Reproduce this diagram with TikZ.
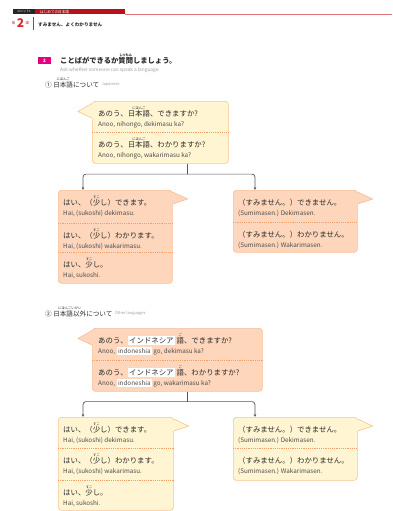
\documentclass[tikz,border=0pt]{standalone}
\usepackage{fontspec}
\setmainfont{Noto Sans CJK JP}
\usetikzlibrary{arrows.meta, positioning, calc}

\definecolor{hdred}{HTML}{B5121B}
\definecolor{lnred}{HTML}{E07078}
\definecolor{numred}{HTML}{D7282F}
\definecolor{tagpink}{HTML}{E4007F}
\definecolor{yelfill}{HTML}{FFF5D2}
\definecolor{yelline}{HTML}{F8C58E}
\definecolor{salfill}{HTML}{FDD6BC}
\definecolor{salline}{HTML}{F9BE96}
\definecolor{dashcol}{HTML}{F2A06A}
\definecolor{txt}{HTML}{2C2C2C}
\definecolor{subgray}{HTML}{A0A0A0}
\definecolor{conncol}{HTML}{555555}

% furigana over a word
\newcommand{\rb}[2]{\leavevmode\setbox0=\hbox{#1}\hbox to \wd0{\hss\raisebox{\dimexpr\ht0+1pt\relax}[0pt][0pt]{\fontsize{3.3}{3.3}\selectfont #2}\hss}\kern-\wd0\box0}
% white field for the language name
\newcommand{\hl}[1]{{\setlength{\fboxsep}{1.4pt}\colorbox{white}{#1}}}
\newcommand{\rom}{\fontsize{6.3}{7}\selectfont\color{txt!85}}

\begin{document}
\begin{tikzpicture}[x=1pt, y=-1pt,
  yel/.style={draw=yelline, fill=yelfill, line width=.6pt, rounded corners=3pt, inner sep=0pt, anchor=north west},
  sal/.style={draw=salline, fill=salfill, line width=.6pt, rounded corners=3pt, inner sep=0pt, anchor=north west},
  rowtxt/.style={inner sep=0pt, align=left, text=txt, font=\fontsize{7.4}{10.5}\selectfont},
  divider/.style={draw=dashcol, dash pattern=on 1.2pt off 1pt, line width=.5pt},
  conn/.style={draw=conncol, line width=.7pt, rounded corners=3pt},
  arrow/.style={conn, -{Stealth[length=3pt, width=2.6pt]}},
  eng/.style={inner sep=0pt, text=subgray, font=\fontsize{4}{4}\selectfont}]
\fill[white] (0,0) rectangle (392,511);
\useasboundingbox (0,0) rectangle (392,511);

% page header
\fill[black!85] (13,9) rectangle (35,14.5);
\node[inner sep=0pt, text=white, font=\fontsize{3}{3}\selectfont] at (24,11.8) {ユニット1};
\fill[hdred] (35,9) rectangle (125,14.5);
\node[anchor=west, inner sep=0pt, text=white, font=\fontsize{3.6}{3.6}\selectfont] at (40,11.8) {はじめての日本語};
\draw[lnred, line width=.6pt] (125,14.2) -- (392,14.2);
\node[inner sep=0pt, text=numred, font=\bfseries\fontsize{12}{12}\selectfont] (lesson) at (20.5,23.5) {2};
\node[inner sep=0pt, text=numred, font=\fontsize{3.5}{3.5}\selectfont, left=1pt of lesson] {第};
\node[inner sep=0pt, text=numred, font=\fontsize{3.5}{3.5}\selectfont, right=1pt of lesson] {課};
\draw[numred, line width=.6pt] (33,17) -- (33,30);
\node[anchor=west, inner sep=0pt, text=txt, font=\bfseries\fontsize{4.6}{4.6}\selectfont] at (38,24.5) {すみません、よくわかりません};

% exercise title
\node[fill=tagpink, text=white, minimum width=13pt, minimum height=6.5pt, inner sep=0pt, font=\bfseries\fontsize{4.5}{4.5}\selectfont] (ex) at (44.5,60.5) {2};
\node[anchor=west, inner sep=0pt, text=txt, font=\bfseries\fontsize{7.3}{7.3}\selectfont] (extitle) at (60,61) {ことばができるか\rb{質問}{しつもん}しましょう。};
\node[anchor=west, inner sep=0pt, text=subgray, font=\fontsize{4.8}{4.8}\selectfont] at (60,70) {Ask whether someone can speak a language.};

% 1: Japanese
\node[anchor=west, inner sep=0pt, text=txt, font=\fontsize{6.6}{6.6}\selectfont] (hd1) at (45,84.5) {① \rb{日本語}{にほんご}について};
\node[eng, right=2pt of hd1] {Japanese};

\node[yel, minimum width=136pt, minimum height=62pt] (q1) at (92,101) {};
\node[rowtxt, below right=8.8pt and 6pt of q1.north west] (q1a) {あのう、\rb{日本語}{にほんご}、できますか?\\{\rom Anoo, nihongo, dekimasu ka?}};
\node[rowtxt, below right=39.8pt and 6pt of q1.north west] (q1b) {あのう、\rb{日本語}{にほんご}、わかりますか?\\{\rom Anoo, nihongo, wakarimasu ka?}};
\draw[divider] ($(q1.north west)+(0,31)$) -- ($(q1.north east)+(0,31)$);

\node[sal, minimum width=114pt, minimum height=93pt] (a1) at (58,190) {};
\node[rowtxt, below right=8.8pt and 5pt of a1.north west] (a1a) {はい、（\rb{少}{すこ}し）できます。\\{\rom Hai, (sukoshi) dekimasu.}};
\node[rowtxt, below right=41.8pt and 5pt of a1.north west] (a1b) {はい、（\rb{少}{すこ}し）わかります。\\{\rom Hai, (sukoshi) wakarimasu.}};
\node[rowtxt, below right=70.8pt and 5pt of a1.north west] (a1c) {はい、\rb{少}{すこ}し。\\{\rom Hai, sukoshi.}};
\draw[divider] ($(a1.north west)+(0,33)$) -- ($(a1.north east)+(0,33)$);
\draw[divider] ($(a1.north west)+(0,62)$) -- ($(a1.north east)+(0,62)$);

\node[sal, minimum width=124pt, minimum height=62pt] (a2) at (233,190) {};
\node[rowtxt, below right=8.8pt and 5pt of a2.north west] (a2a) {（すみません。）できません。\\{\rom (Sumimasen.) Dekimasen.}};
\node[rowtxt, below right=40.8pt and 5pt of a2.north west] (a2b) {（すみません。）わかりません。\\{\rom (Sumimasen.) Wakarimasen.}};
\draw[divider] ($(a2.north west)+(0,32)$) -- ($(a2.north east)+(0,32)$);

% 2: other languages
\node[anchor=west, inner sep=0pt, text=txt, font=\fontsize{6.6}{6.6}\selectfont] (hd2) at (45,313.5) {② \rb{日本語以外}{にほんごいがい}について};
\node[eng, right=2pt of hd2] {Other languages};

\node[sal, minimum width=170pt, minimum height=63pt] (q2) at (92,328) {};
\node[rowtxt, below right=7.6pt and 6pt of q2.north west] (q2a) {あのう、\hl{インドネシア} \rb{語}{ご}、できますか?\\{\rom Anoo, \hl{indoneshia} go, dekimasu ka?}};
\node[rowtxt, below right=39.6pt and 6pt of q2.north west] (q2b) {あのう、\hl{インドネシア} \rb{語}{ご}、わかりますか?\\{\rom Anoo, \hl{indoneshia} go, wakarimasu ka?}};
\draw[divider] ($(q2.north west)+(0,32)$) -- ($(q2.north east)+(0,32)$);

\node[yel, minimum width=115pt, minimum height=93pt] (a3) at (58,417) {};
\node[rowtxt, below right=8.8pt and 5pt of a3.north west] (a3a) {はい、（\rb{少}{すこ}し）できます。\\{\rom Hai, (sukoshi) dekimasu.}};
\node[rowtxt, below right=39.8pt and 5pt of a3.north west] (a3b) {はい、（\rb{少}{すこ}し）わかります。\\{\rom Hai, (sukoshi) wakarimasu.}};
\node[rowtxt, below right=71.8pt and 5pt of a3.north west] (a3c) {はい、\rb{少}{すこ}し。\\{\rom Hai, sukoshi.}};
\draw[divider] ($(a3.north west)+(0,31)$) -- ($(a3.north east)+(0,31)$);
\draw[divider] ($(a3.north west)+(0,63)$) -- ($(a3.north east)+(0,63)$);

\node[yel, minimum width=124pt, minimum height=63pt] (a4) at (233,417) {};
\node[rowtxt, below right=8.8pt and 5pt of a4.north west] (a4a) {（すみません。）できません。\\{\rom (Sumimasen.) Dekimasen.}};
\node[rowtxt, below right=39.8pt and 5pt of a4.north west] (a4b) {（すみません。）わかりません。\\{\rom (Sumimasen.) Wakarimasen.}};
\draw[divider] ($(a4.north west)+(0,31)$) -- ($(a4.north east)+(0,31)$);

% speech tails
\foreach \b/\f/\l in {q1/yelfill/yelline, q2/salfill/salline} {
  \fill[\f] ($(\b.north west)+(1,1.9)$) -- ($(\b.north west)+(-14,10.5)$) -- ($(\b.north west)+(1,17.5)$) -- cycle;
  \draw[\l, line width=.6pt] ($(\b.north west)+(0,2.5)$) -- ($(\b.north west)+(-14,10.5)$) -- ($(\b.north west)+(0,17)$);
}
\foreach \b/\f/\l in {a1/salfill/salline, a2/salfill/salline, a3/yelfill/yelline, a4/yelfill/yelline} {
  \fill[\f] ($(\b.north east)+(-1,1.5)$) -- ($(\b.north east)+(15,9)$) -- ($(\b.north east)+(-1,14.3)$) -- cycle;
  \draw[\l, line width=.6pt] ($(\b.north east)+(0,2)$) -- ($(\b.north east)+(15,9)$) -- ($(\b.north east)+(0,14)$);
}

% connectors
\coordinate (q1out) at ($(q1.south west)+(95,0)$);
\coordinate (j1) at ($(q1out)+(0,10.5)$);
\coordinate (a1in) at ($(a1.north west)+(25,0)$);
\coordinate (a2in) at ($(a2.north west)+(22,0)$);
\draw[conn] (q1out) -- (j1);
\draw[arrow] (j1) -| (a1in);
\draw[arrow] (j1) -| (a2in);

\coordinate (q2out) at ($(q2.south west)+(95,0)$);
\coordinate (j2) at ($(q2out)+(0,10)$);
\coordinate (a3in) at ($(a3.north west)+(25,0)$);
\coordinate (a4in) at ($(a4.north west)+(22,0)$);
\draw[conn] (q2out) -- (j2);
\draw[arrow] (j2) -| (a3in);
\draw[arrow] (j2) -| (a4in);
\end{tikzpicture}
\end{document}
